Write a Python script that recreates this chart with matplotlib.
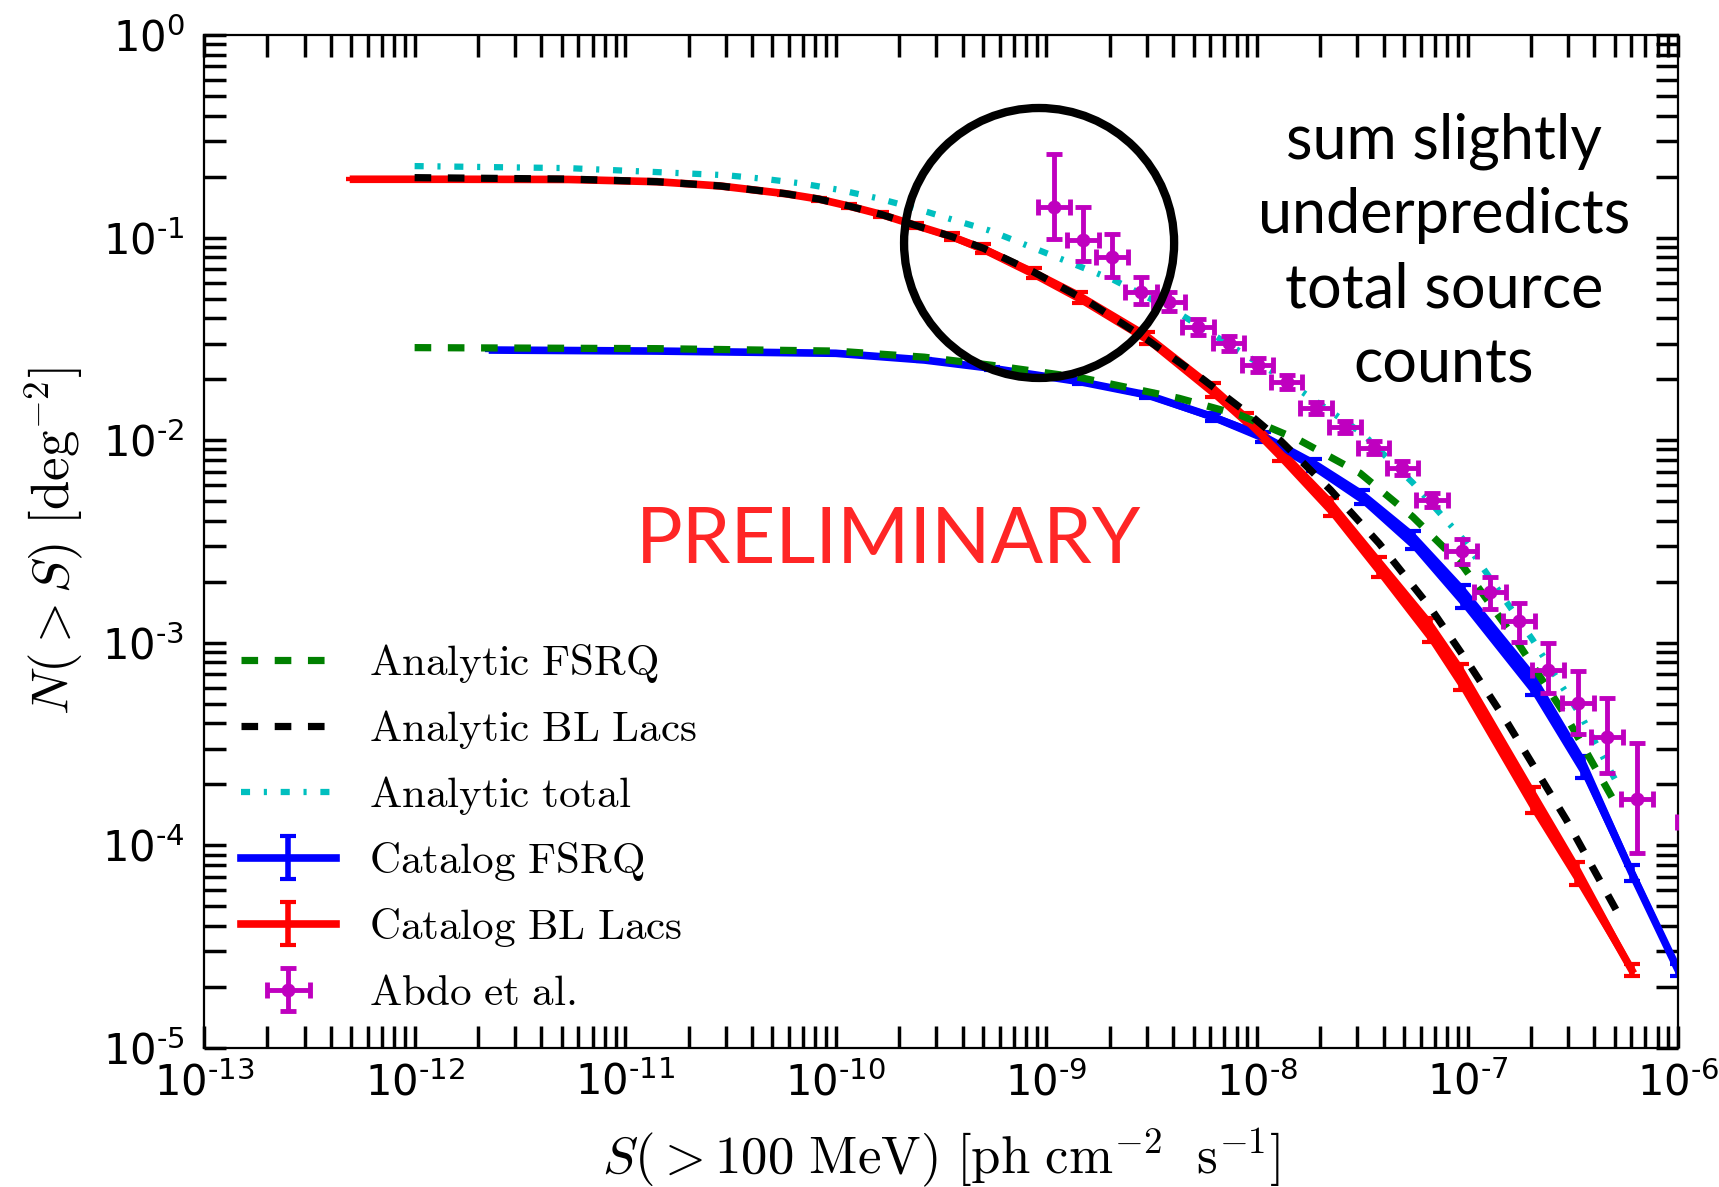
import numpy as np
import matplotlib.pyplot as plt
from matplotlib.patches import Ellipse
from matplotlib.ticker import LogLocator, FuncFormatter, NullFormatter
from matplotlib.font_manager import FontProperties

# all values, stored as log10

# analytic curves
ana_fsrq_logS = [-12.0, -10.85, -10.0, -9.58, -9.26, -8.84, -8.37, -8.08, -7.80, -7.51, -7.26, -7.02, -6.77, -6.53, -6.28]
ana_fsrq_logN = [-1.543, -1.548, -1.560, -1.590, -1.630, -1.691, -1.793, -1.876, -1.999, -2.163, -2.378, -2.624, -2.986, -3.366, -3.825]

ana_bll_logS = [-12.0, -11.27, -10.85, -10.55, -10.24, -10.08, -9.935, -9.786, -9.62, -9.449, -9.30, -9.06,
                -8.79, -8.52, -8.27, -8.02, -7.89, -7.65, -7.42, -7.18, -6.99, -6.81, -6.53, -6.26]
ana_bll_logN = [-0.704, -0.711, -0.724, -0.745, -0.783, -0.810, -0.845, -0.885, -0.940, -0.995, -1.052, -1.170,
                -1.323, -1.505, -1.688, -1.886, -2.000, -2.246, -2.509, -2.822, -3.11, -3.396, -3.875, -4.383]

ana_tot_logS = [-12.0, -11.27, -10.52, -10.34, -10.16, -9.98, -9.80, -9.62, -9.45, -9.27, -8.68, -8.37,
                -7.89, -7.50, -7.26, -7.02, -6.69, -6.45, -6.28]
ana_tot_logN = [-0.647, -0.657, -0.692, -0.710, -0.733, -0.765, -0.806, -0.856, -0.910, -0.965, -1.209, -1.374,
                -1.686, -1.966, -2.21, -2.49, -2.986, -3.381, -3.712]

# catalog curves (err = half width of the error band, dex)
cat_fsrq_logS = [-11.63, -10.85, -10.0, -9.58, -9.26, -8.84, -8.52, -8.21, -7.97, -7.73, -7.50, -7.26, -7.02, -6.69, -6.45, -6.22, -6.0]
cat_fsrq_logN = [-1.555, -1.560, -1.571, -1.604, -1.645, -1.711, -1.777, -1.884, -1.983, -2.122, -2.279, -2.493, -2.772, -3.198, -3.613, -4.136, -4.615]
cat_fsrq_err = [0, 0, 0.002, 0.005, 0.008, 0.012, 0.015, 0.02, 0.025, 0.03, 0.035, 0.045, 0.055, 0.06, 0.055, 0.04, 0.03]

cat_bll_logS = [-12.29, -11.80, -11.27, -10.85, -10.55, -10.24, -10.08, -9.935, -9.786, -9.62, -9.449, -9.30,
                -9.06, -8.84, -8.52, -8.21, -8.05, -7.89, -7.65, -7.42, -7.18, -7.03, -6.69, -6.48, -6.22]
cat_bll_logN = [-0.712, -0.712, -0.713, -0.724, -0.745, -0.783, -0.810, -0.845, -0.885, -0.940, -0.995, -1.055,
                -1.175, -1.295, -1.495, -1.752, -1.900, -2.065, -2.328, -2.624, -2.937, -3.170, -3.776, -4.138, -4.615]
cat_bll_err = [0, 0, 0, 0, 0.002, 0.005, 0.007, 0.009, 0.011, 0.014, 0.018, 0.022,
               0.025, 0.028, 0.03, 0.035, 0.035, 0.04, 0.045, 0.05, 0.06, 0.065, 0.065, 0.055, 0.03]

# Abdo et al. points
abdo_logS = [-8.964, -8.826, -8.688, -8.550, -8.418, -8.280, -8.135, -7.997, -7.859, -7.720, -7.582,
             -7.446, -7.309, -7.170, -7.028, -6.894, -6.756, -6.618, -6.476, -6.338, -6.196, -5.93]
abdo_dlogS = [0.075] * 22
abdo_logN = [-0.849, -1.012, -1.096, -1.270, -1.316, -1.440, -1.522, -1.629, -1.712, -1.840, -1.934,
             -2.037, -2.136, -2.295, -2.549, -2.749, -2.892, -3.134, -3.297, -3.465, -3.771, -3.885]
abdo_logN_hi = [-0.587, -0.849, -0.982, -1.194, -1.270, -1.400, -1.485, -1.595, -1.680, -1.810, -1.905,
                -2.005, -2.105, -2.260, -2.490, -2.675, -2.804, -3.001, -3.139, -3.273, -3.495, -3.600]
abdo_logN_lo = [-1.007, -1.115, -1.194, -1.330, -1.360, -1.480, -1.560, -1.665, -1.745, -1.870, -1.965,
                -2.070, -2.170, -2.330, -2.610, -2.833, -2.996, -3.248, -3.450, -3.643, -4.038, -4.200]


def p10(a):
    return 10 ** np.asarray(a, dtype=float)


fig = plt.figure(figsize=(17.19, 11.87), dpi=100)
ax = fig.add_axes([0.1187, 0.1171, 0.8575, 0.8534])
ax.set_xscale('log')
ax.set_yscale('log')


def catalog(logS, logN, err, color, label):
    S = p10(logS)
    N = p10(logN)
    e = p10(err)
    ax.fill_between(S, N / e, N * e, color=color, lw=0, zorder=2)
    return ax.errorbar(S, N, yerr=[N - N / e, N * e - N], color=color, lw=5.5,
                       elinewidth=4, capsize=6, capthick=3, zorder=2, label=label)


h_cf = catalog(cat_fsrq_logS, cat_fsrq_logN, cat_fsrq_err, 'b', r'$\mathrm{Catalog\ FSRQ}$')
h_cb = catalog(cat_bll_logS, cat_bll_logN, cat_bll_err, 'r', r'$\mathrm{Catalog\ BL\ Lacs}$')

h_af, = ax.plot(p10(ana_fsrq_logS), p10(ana_fsrq_logN), color='g', lw=5.2,
                dashes=(2.3, 2.3), zorder=3, label=r'$\mathrm{Analytic\ FSRQ}$')
h_ab, = ax.plot(p10(ana_bll_logS), p10(ana_bll_logN), color='k', lw=5.2,
                dashes=(2.3, 2.3), zorder=3, label=r'$\mathrm{Analytic\ BL\ Lacs}$')
h_at, = ax.plot(p10(ana_tot_logS), p10(ana_tot_logN), color='c', lw=4.5,
                dashes=(1.45, 2.2, 0.5, 2.2), zorder=3, label=r'$\mathrm{Analytic\ total}$')

S = p10(abdo_logS)
N = p10(abdo_logN)
dS = p10(abdo_dlogS)
h_abdo = ax.errorbar(S, N, xerr=[S - S / dS, S * dS - S],
                     yerr=[N - p10(abdo_logN_lo), p10(abdo_logN_hi) - N],
                     fmt='o', color='m', ms=9, elinewidth=3.5, capsize=6, capthick=3.5,
                     zorder=4, label=r'$\mathrm{Abdo\ et\ al.}$')

ax.set_xlim(1e-13, 1e-6)
ax.set_ylim(1e-5, 1)


def fmt(v, pos):
    e = int(round(np.log10(v)))
    if e < 0:
        return r'$10^{\text{-}%d}$' % (-e)
    return r'$10^{%d}$' % e


for axis in (ax.xaxis, ax.yaxis):
    axis.set_major_locator(LogLocator(base=10, numticks=20))
    axis.set_minor_locator(LogLocator(base=10, subs=np.arange(2, 10), numticks=100))
    axis.set_major_formatter(FuncFormatter(fmt))
    axis.set_minor_formatter(NullFormatter())

ax.tick_params(which='both', direction='in', top=True, right=True, length=16, width=2.5, labelsize=30)
ax.tick_params(axis='x', pad=10)
ax.tick_params(axis='y', pad=14)
for s in ax.spines.values():
    s.set_linewidth(1.6)

ax.set_xlabel(r'$S(>100\ \mathrm{MeV})\ [\mathrm{ph\ cm}^{-2}\ \ \mathrm{s}^{-1}]$',
              fontsize=38, math_fontfamily='cm', labelpad=16)
ax.set_ylabel(r'$N(>S)\ [\mathrm{deg}^{-2}]$', fontsize=38, math_fontfamily='cm', labelpad=12)

# circle around the low-flux Abdo points
ax.add_patch(Ellipse((0.5665, 0.7947), 0.1832, 0.2665, transform=ax.transAxes,
                     fill=False, ec='k', lw=6, zorder=5))

ax.text(0.841, 0.785, 'sum slightly\nunderpredicts\ntotal source\ncounts', transform=ax.transAxes,
        ha='center', va='center', multialignment='center', fontsize=44, family='Lato',
        linespacing=1.38)
ax.text(0.4647, 0.4788, 'PRELIMINARY', transform=ax.transAxes, ha='center', va='baseline',
        fontsize=56, family='Lato', color='#ff2626')

handles = [h_af, h_ab, h_at, h_cf, h_cb, h_abdo]
ax.legend(handles, [h.get_label() for h in handles],
          loc='lower left', bbox_to_anchor=(0.0105, 0.0124), frameon=False,
          prop=FontProperties(size=31, math_fontfamily='cm'),
          handlelength=2.2, handletextpad=0.78, labelspacing=0.535, borderpad=0)

fig.savefig('out.png', dpi=100)
